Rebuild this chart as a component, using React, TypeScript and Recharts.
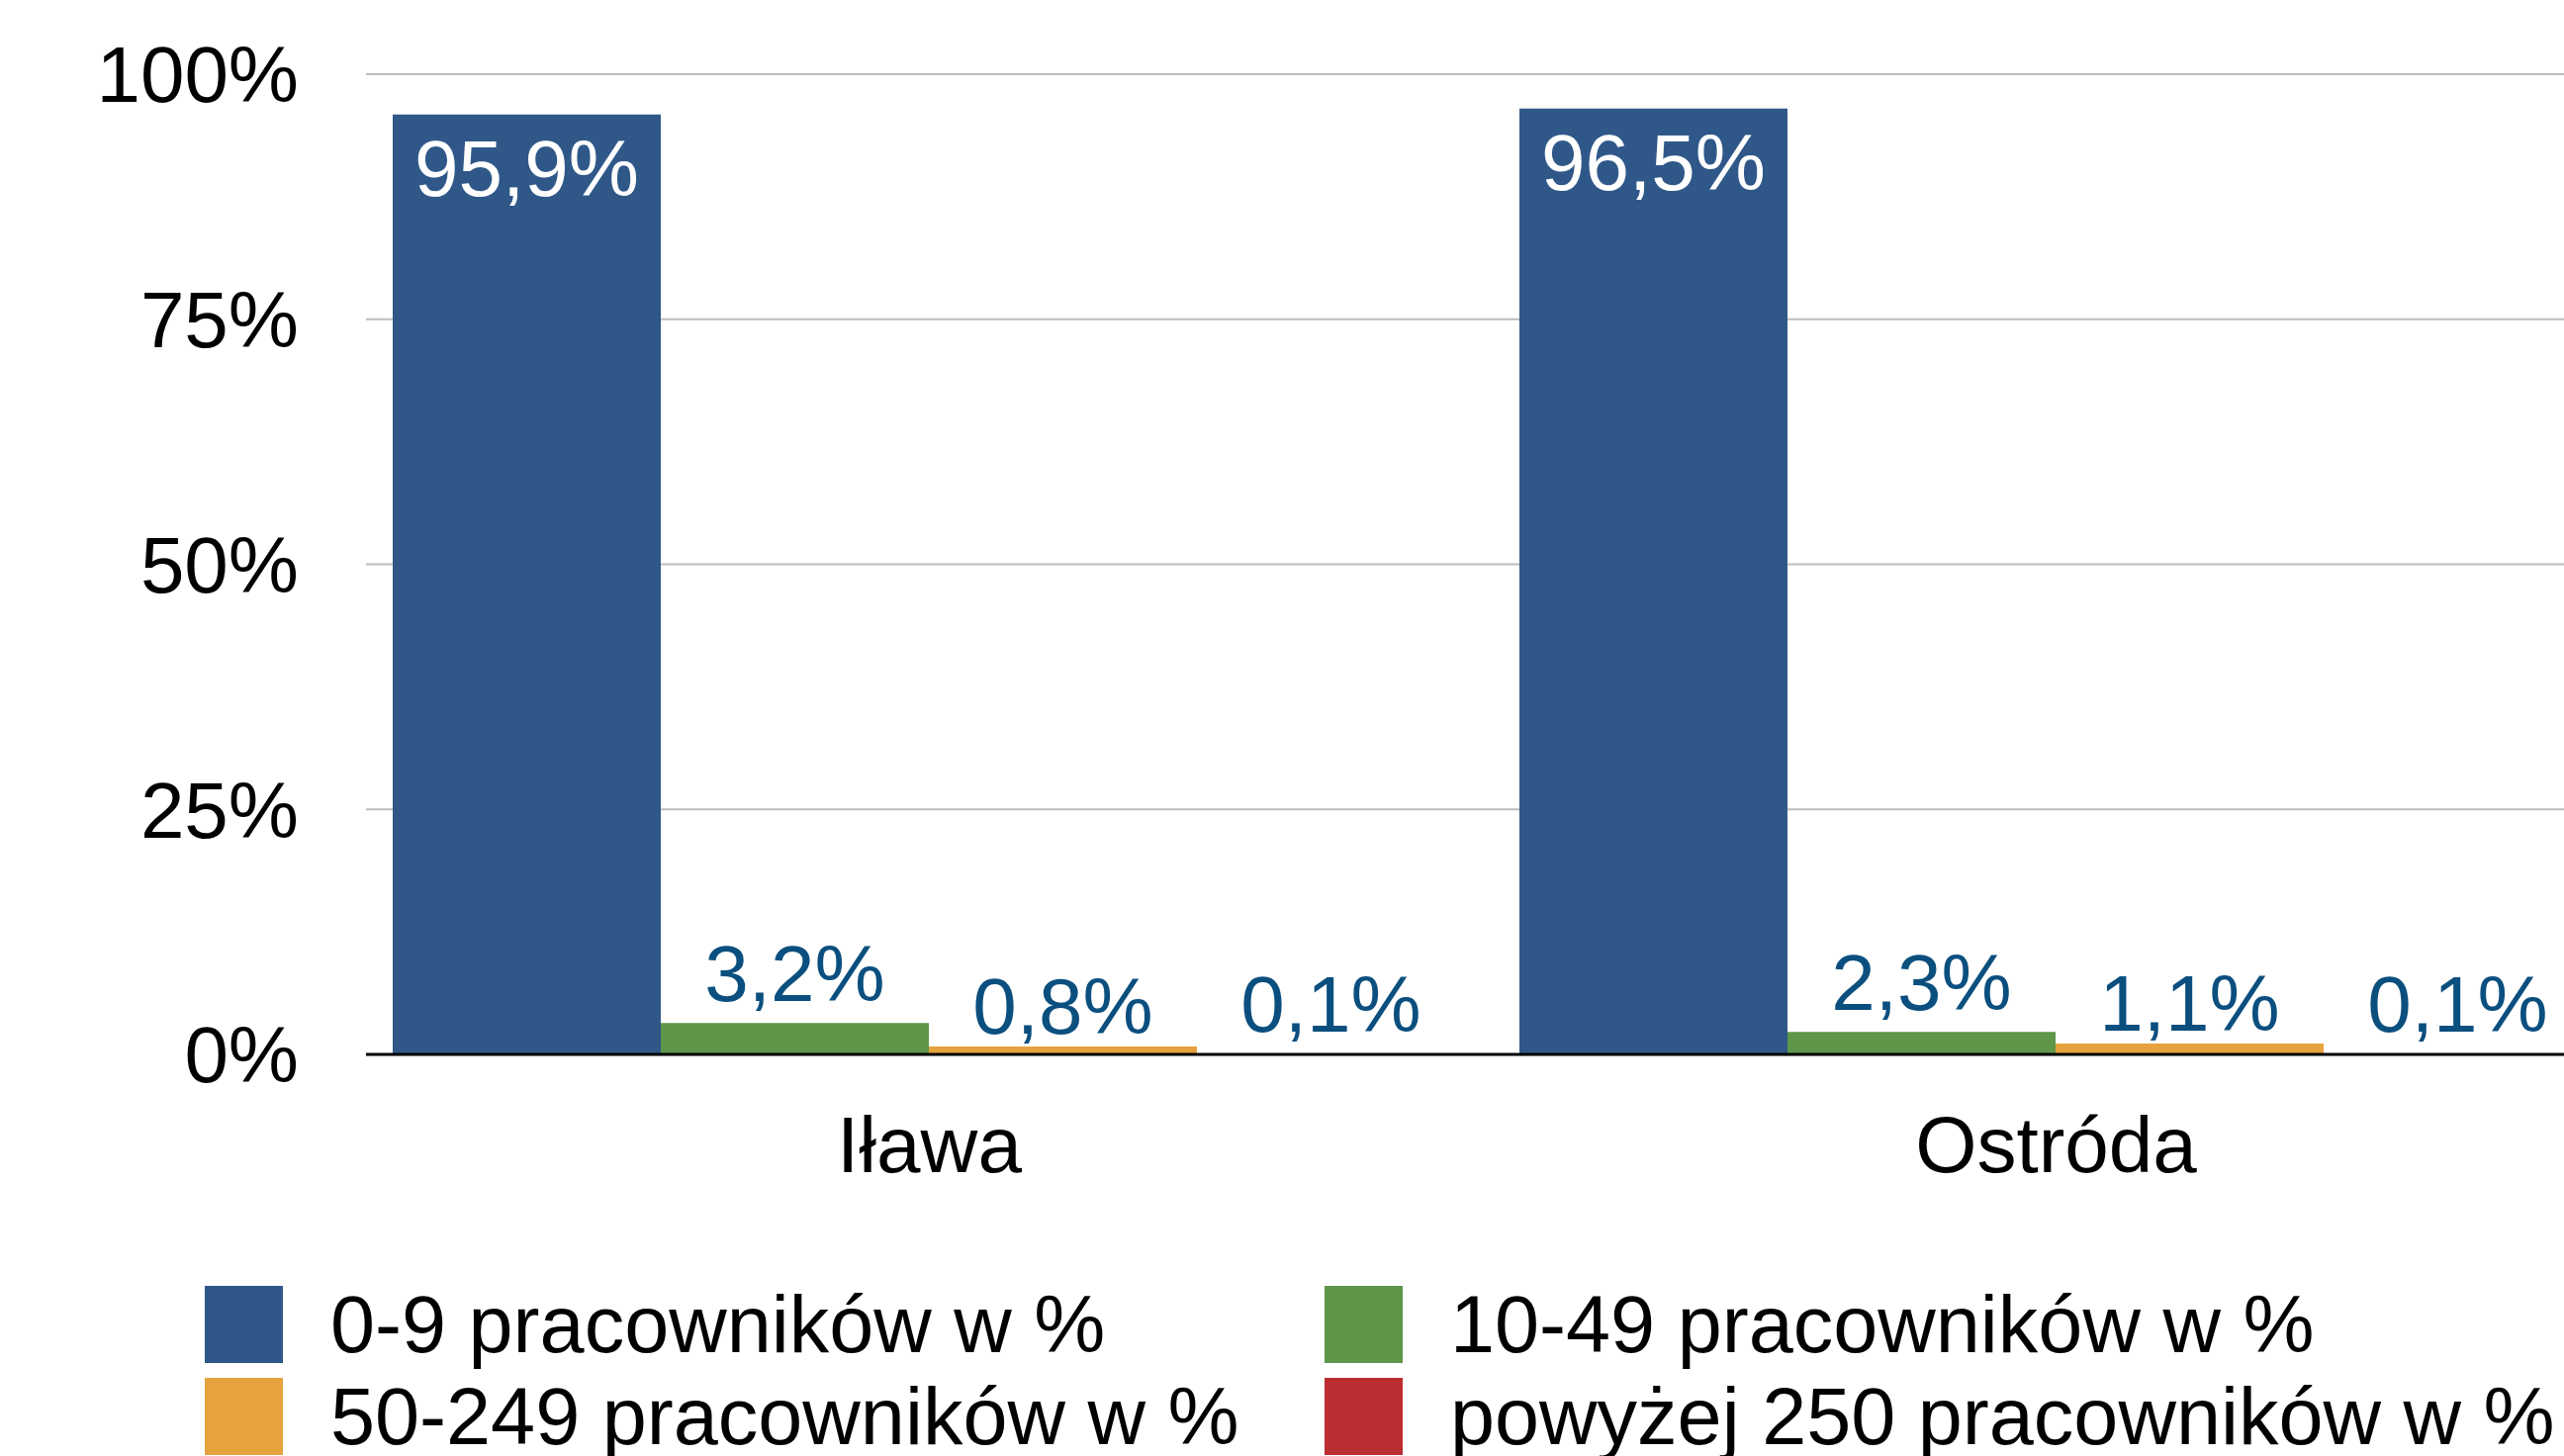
import { Bar, BarChart, CartesianGrid, LabelList, Legend, XAxis, YAxis } from "recharts";

const cities = ["Iława", "Ostróda"];
const micro = [95.9, 96.5];
const small = [3.2, 2.3];
const medium = [0.8, 1.1];
const large = [0.1, 0.1];
const yTicks = [0, 25, 50, 75, 100];

const series = [
  { key: "micro", name: "0-9 pracowników w %", color: "#2F5889" },
  { key: "small", name: "10-49 pracowników w %", color: "#5E964A" },
  { key: "medium", name: "50-249 pracowników w %", color: "#E6A23D" },
  { key: "large", name: "powyżej 250 pracowników w %", color: "#BC2D31" },
];

const data = cities.map((city, i) => ({
  city,
  micro: micro[i],
  small: small[i],
  medium: medium[i],
  large: large[i],
}));

const fmt = (v: number) => `${v.toFixed(1).replace(".", ",")}%`;
const labelBlue = "#0B4F7F";

function LegendGrid({ payload }: any) {
  const items = payload && payload.length ? payload : series.map((s) => ({ value: s.name, color: s.color }));
  return (
    <div
      style={{
        display: "grid",
        gridTemplateColumns: "1132px auto",
        rowGap: 15,
        paddingLeft: 207,
      }}
    >
      {items.map((it: any) => (
        <div key={it.value} style={{ display: "flex", alignItems: "center", height: 78 }}>
          <span style={{ width: 79, height: 78, background: it.color, marginRight: 48, flexShrink: 0 }} />
          <span style={{ fontSize: 81, color: "#000", whiteSpace: "nowrap" }}>{it.value}</span>
        </div>
      ))}
    </div>
  );
}

export default function App() {
  return (
    <div
      style={{
        position: "absolute",
        left: 0,
        top: 0,
        width: 2592,
        height: 1472,
        overflow: "hidden",
        background: "#fff",
        fontFamily: "'Liberation Sans', Arial, sans-serif",
      }}
    >
      <BarChart
        width={2648}
        height={1472}
        data={data}
        margin={{ top: 75, right: 0, left: 0, bottom: 276 }}
        barCategoryGap={27}
        barGap={0}
      >
        <CartesianGrid vertical={false} stroke="#BDBDBD" strokeWidth={2} />
        <XAxis
          dataKey="city"
          height={130}
          tickLine={false}
          tickSize={0}
          tickMargin={62}
          axisLine={{ stroke: "#000", strokeWidth: 3 }}
          tick={{ fill: "#000", fontSize: 80 }}
        />
        <YAxis
          width={370}
          domain={[0, 100]}
          ticks={yTicks}
          tickFormatter={(v) => `${v}%`}
          axisLine={false}
          tickLine={false}
          tickSize={0}
          tickMargin={68}
          tick={{ fill: "#000", fontSize: 80 }}
        />
        <Legend
          layout="horizontal"
          verticalAlign="middle"
          align="center"
          wrapperStyle={{ left: 0, top: 1300, width: 2592 }}
          content={(props) => <LegendGrid {...props} />}
        />
        {series.map((s) => (
          <Bar key={s.key} dataKey={s.key} name={s.name} fill={s.color} isAnimationActive={false}>
            <LabelList
              dataKey={s.key}
              position={s.key === "micro" ? "insideTop" : "top"}
              offset={s.key === "micro" ? 26 : s.key === "medium" ? 13 : 22}
              formatter={(v: any) => fmt(Number(v))}
              fill={s.key === "micro" ? "#fff" : labelBlue}
              fontSize={80}
            />
          </Bar>
        ))}
      </BarChart>
    </div>
  );
}
